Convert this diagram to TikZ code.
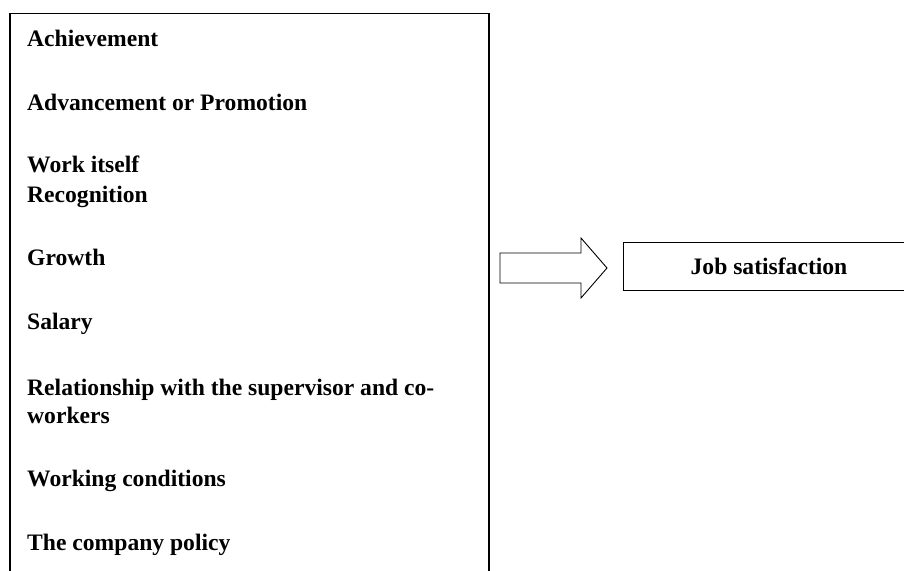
\documentclass[tikz,border=0pt]{standalone}
\usepackage{fontspec}
\setmainfont{Liberation Serif}
\begin{document}
\begin{tikzpicture}[x=1pt,y=-1pt,
  txt/.style={inner sep=0pt,font=\fontsize{23.6}{26}\selectfont\bfseries},
  item/.style={txt,anchor=base west},
  bigbox/.style={draw,line width=1.8pt},
  jobbox/.style={draw,line width=1pt,minimum width=282pt,minimum height=48pt,inner sep=0pt}]
\useasboundingbox (0,0) rectangle (904,570);
\clip (0,0) rectangle (904,570);
\draw[bigbox] (10,600) -- (10,13.5) -- (489,13.5) -- (489,600);
\node[item] (a1) at (27,46) {Achievement};
\node[item] (a2) at (27,110) {Advancement or Promotion};
\node[item] (a3) at (27,172) {Work itself};
\node[item] (a4) at (27,202) {Recognition};
\node[item] (a5) at (27,265) {Growth};
\node[item] (a6) at (27,329) {Salary};
\node[item] (a7) at (27,395) {Relationship with the supervisor and co-};
\node[item] (a8) at (27,423) {workers};
\node[item] (a9) at (27,486) {Working conditions};
\node[item] (a10) at (27,550) {The company policy};
\coordinate (s1) at (500,253);
\coordinate (s2) at (581,253);
\coordinate (h1) at (581,238);
\coordinate (tip) at (607,268);
\coordinate (h2) at (581,298);
\coordinate (s3) at (581,283);
\coordinate (s4) at (500,283);
\draw[line width=0.9pt,line join=miter] (s1) -- (s2) -- (h1) -- (tip) -- (h2) -- (s3) -- (s4) -- cycle;
\node[jobbox,anchor=north west] (job) at (623,242) {};
\node[txt,anchor=base] (jobtxt) at (769,274) {Job satisfaction};
\end{tikzpicture}
\end{document}
